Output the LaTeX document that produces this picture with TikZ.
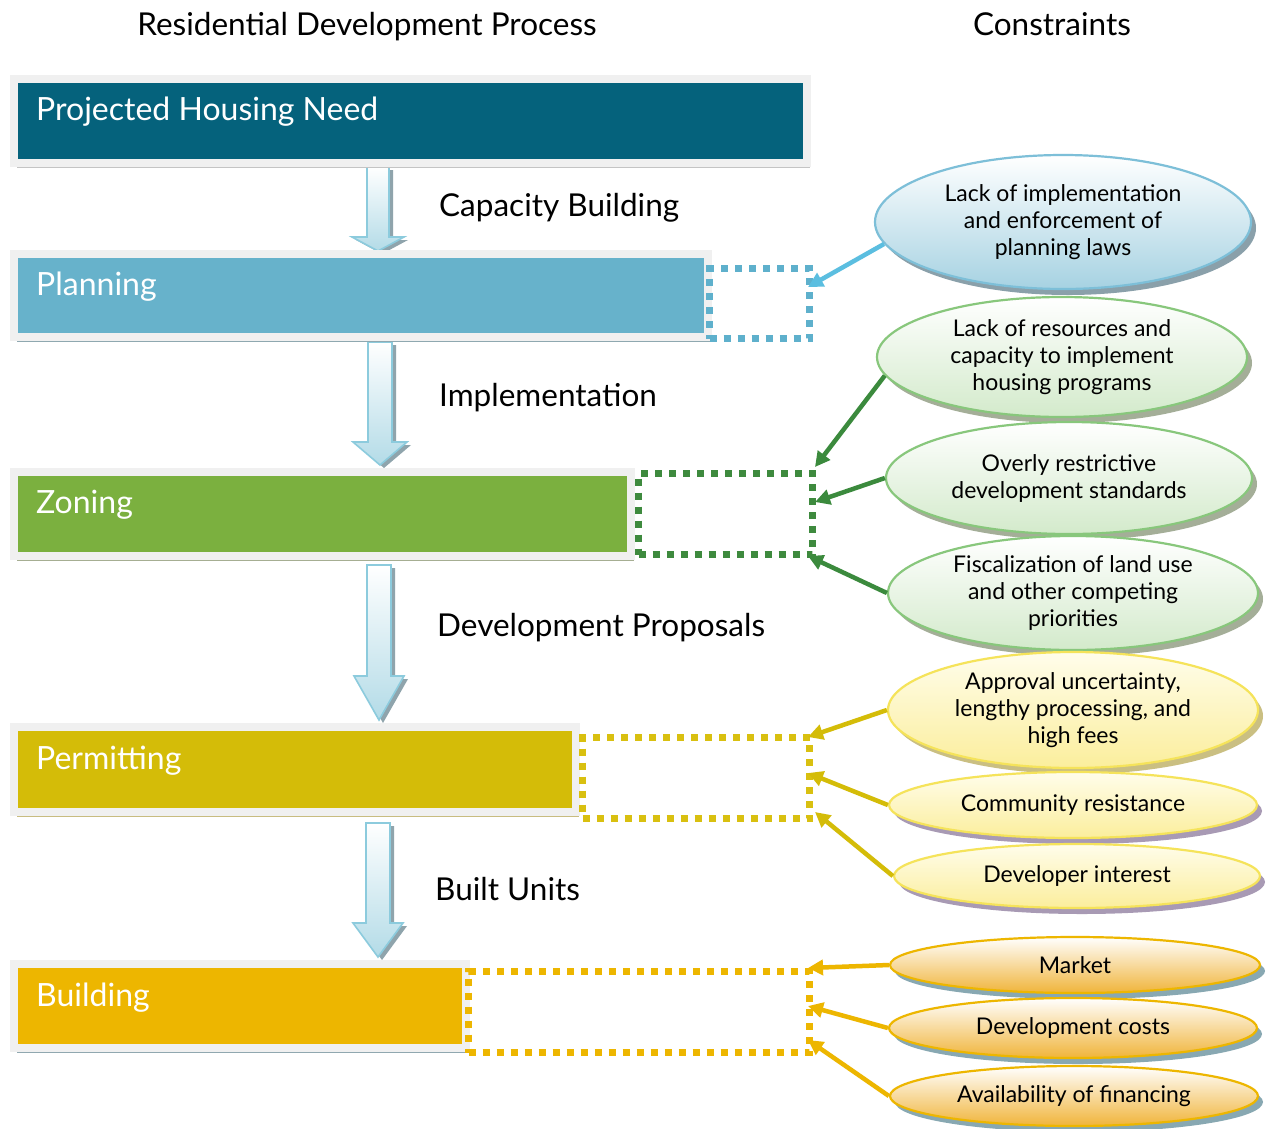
\documentclass[tikz,border=0pt]{standalone}
\usepackage{fontspec}
\setmainfont{Lato}
\usetikzlibrary{shapes.geometric,shadows,arrows.meta}
\definecolor{cA}{HTML}{05627C}
\definecolor{cB}{HTML}{67B2CB}
\definecolor{cC}{HTML}{7BB03F}
\definecolor{cD}{HTML}{D4BC08}
\definecolor{cE}{HTML}{EDB600}
\definecolor{dotB}{HTML}{5EB0CC}
\definecolor{dotC}{HTML}{3E8A3E}
\definecolor{dotD}{HTML}{D9C010}
\definecolor{dotE}{HTML}{EDB600}
\definecolor{frameg}{HTML}{F0F0F0}
\definecolor{shA}{HTML}{C4C4C4}
\definecolor{shB}{HTML}{8FA8B0}
\definecolor{shC}{HTML}{A6AE92}
\definecolor{shD}{HTML}{C8BC80}
\definecolor{shE}{HTML}{90A8B0}
\definecolor{arrblue}{HTML}{B3DBE7}
\definecolor{arrborder}{HTML}{8CCBDD}
\definecolor{arrshadow}{HTML}{8FA4AC}
\definecolor{eBline}{HTML}{7DBFD8}
\definecolor{eBfill}{HTML}{A6D2E2}
\definecolor{eBsh}{HTML}{8AA0AA}
\definecolor{eGline}{HTML}{88C77C}
\definecolor{eGfill}{HTML}{D3EACB}
\definecolor{eGsh}{HTML}{A4AE98}
\definecolor{eYline}{HTML}{F5E35A}
\definecolor{eYtop}{HTML}{FFFDEB}
\definecolor{eYfill}{HTML}{FBEE9C}
\definecolor{eYsh}{HTML}{CABF82}
\definecolor{eYsh2}{HTML}{A89AB4}
\definecolor{eOline}{HTML}{EDB600}
\definecolor{eOfill}{HTML}{F0B43A}
\definecolor{eOsh}{HTML}{88A8B2}
\definecolor{conB}{HTML}{5BBEE0}
\definecolor{conG}{HTML}{3B8A3D}
\definecolor{conY}{HTML}{D4BC08}
\definecolor{conO}{HTML}{EDB600}
\newcommand{\blkarrow}[6]{%
  \path[fill=arrshadow] ({#1-#5+4},{#2+3}) -- ({#1+#5+4},{#2+3}) -- ({#1+#5+4},{#3+3}) -- ({#1+#6+4},{#3+3}) -- ({#1+4},{#4+3}) -- ({#1-#6+4},{#3+3}) -- ({#1-#5+4},{#3+3}) -- cycle;
  \path[draw=arrborder, line width=1.6pt, top color=white, bottom color=arrblue] ({#1-#5},#2) -- ({#1+#5},#2) -- ({#1+#5},#3) -- ({#1+#6},#3) -- (#1,#4) -- ({#1-#6},#3) -- ({#1-#5},#3) -- cycle;}
\begin{document}
\begin{tikzpicture}[x=1pt,y=-1pt,
  stagebox/.style={rectangle, anchor=north west, inner sep=0pt, outer sep=0pt, draw=frameg, line width=8pt},
  stagetext/.style={anchor=base west, inner sep=0pt, text=white, font=\fontsize{32}{34}\selectfont},
  flowlabel/.style={anchor=base west, inner sep=0pt, font=\fontsize{31.5}{34}\selectfont},
  headtext/.style={font=\fontsize{31.5}{34}\selectfont},
  dotbox/.style={rectangle, anchor=north west, inner sep=0pt, line width=7pt, dash pattern=on 7pt off 7pt},
  cons/.style={ellipse, inner sep=0pt, line width=2.2pt, align=center, font=\fontsize{23}{27}\selectfont},
  consB/.style={cons, draw=eBline, top color=white, bottom color=eBfill, drop shadow={shadow xshift=5pt, shadow yshift=-6pt, fill=eBsh, opacity=1}},
  consG/.style={cons, draw=eGline, top color=white, bottom color=eGfill, drop shadow={shadow xshift=5pt, shadow yshift=-6pt, fill=eGsh, opacity=1}},
  consY/.style={cons, draw=eYline, top color=eYtop, bottom color=eYfill, drop shadow={shadow xshift=5pt, shadow yshift=-6pt, fill=eYsh, opacity=1}},
  consY2/.style={cons, draw=eYline, top color=eYtop, bottom color=eYfill, drop shadow={shadow xshift=5pt, shadow yshift=-6pt, fill=eYsh2, opacity=1}},
  consO/.style={cons, draw=eOline, top color=white, bottom color=eOfill, drop shadow={shadow xshift=5pt, shadow yshift=-6pt, fill=eOsh, opacity=1}},
  conn/.style={line width=4.5pt, -{Triangle[length=15pt,width=15pt]}},
]
\useasboundingbox (0,0) rectangle (1272,1128);
\fill[white] (0,0) rectangle (1272,1128);

% headings
\node[headtext, anchor=base] (h1) at (367,35) {Residential Development Process};
\node[headtext, anchor=base] (h2) at (1052,35) {Constraints};

% block arrows
\blkarrow{378}{167}{237}{251}{11}{26}
\blkarrow{380}{342}{442}{465}{12}{27}
\blkarrow{379}{565}{676}{720}{12}{25}
\blkarrow{378}{823}{923}{957}{12}{25}

% stage boxes
\node[stagebox, fill=cA, minimum width=793pt, minimum height=84pt, drop shadow={shadow xshift=3pt, shadow yshift=-5pt, fill=shA, opacity=1}] (b1) at (14,79) {};
\node[stagebox, fill=cB, minimum width=694pt, minimum height=83pt, drop shadow={shadow xshift=3pt, shadow yshift=-5pt, fill=shB, opacity=1}] (b2) at (14,254) {};
\node[stagebox, fill=cC, minimum width=617pt, minimum height=84pt, drop shadow={shadow xshift=3pt, shadow yshift=-5pt, fill=shC, opacity=1}] (b3) at (14,472) {};
\node[stagebox, fill=cD, minimum width=562pt, minimum height=85pt, drop shadow={shadow xshift=3pt, shadow yshift=-5pt, fill=shD, opacity=1}] (b4) at (14,727) {};
\node[stagebox, fill=cE, minimum width=452pt, minimum height=84pt, drop shadow={shadow xshift=3pt, shadow yshift=-5pt, fill=shE, opacity=1}] (b5) at (14,964) {};

\node[stagetext] (t1) at (36,120) {Projected Housing Need};
\node[stagetext] (t2) at (36,295) {Planning};
\node[stagetext] (t3) at (36,513) {Zoning};
\node[stagetext] (t4) at (36,769) {Permitting};
\node[stagetext] (t5) at (36,1006) {Building};

% flow labels
\node[flowlabel] (l1) at (439,216) {Capacity Building};
\node[flowlabel] (l2) at (439,406) {Implementation};
\node[flowlabel] (l3) at (437,636) {Development Proposals};
\node[flowlabel] (l4) at (435,900) {Built Units};

% dotted boxes
\node[dotbox, draw=dotB, minimum width=100pt, minimum height=70pt] (d2) at (706,265) {};
\node[dotbox, draw=dotC, minimum width=174pt, minimum height=81pt] (d3) at (635,470) {};
\node[dotbox, draw=dotD, minimum width=227pt, minimum height=81pt] (d4) at (579,734) {};
\node[dotbox, draw=dotE, minimum width=341pt, minimum height=81pt] (d5) at (465,968) {};

% constraint ellipses
\node[consB, minimum width=376pt, minimum height=134pt] (e1) at (1063,222) {Lack of implementation\\and enforcement of\\planning laws};
\node[consG, minimum width=370pt, minimum height=120pt] (e2) at (1062,357) {Lack of resources and\\capacity to implement\\housing programs};
\node[consG, minimum width=366pt, minimum height=112pt] (e3) at (1069,478) {Overly restrictive\\development standards};
\node[consG, minimum width=370pt, minimum height=114pt] (e4) at (1073,593) {Fiscalization of land use\\and other competing\\priorities};
\node[consY, minimum width=370pt, minimum height=116pt] (e5) at (1073,710) {Approval uncertainty,\\lengthy processing, and\\high fees};
\node[consY2, minimum width=368pt, minimum height=66pt] (e6) at (1073,805) {Community resistance};
\node[consY2, minimum width=366pt, minimum height=64pt] (e7) at (1077,876) {Developer interest};
\node[consO, minimum width=370pt, minimum height=56pt] (e8) at (1075,965) {Market};
\node[consO, minimum width=368pt, minimum height=60pt] (e9) at (1073,1028) {Development costs};
\node[consO, minimum width=368pt, minimum height=60pt] (e10) at (1074,1096) {Availability of financing};

% arrow targets
\coordinate (p1) at (808,287);
\coordinate (p2) at (815,467);
\coordinate (p3) at (815,502);
\coordinate (p4) at (808,556);
\coordinate (p5) at (808,737);
\coordinate (p6) at (808,773);
\coordinate (p7) at (815,812);
\coordinate (p8) at (808,968);
\coordinate (p9) at (808,1006);
\coordinate (p10) at (808,1040);

\draw[conn, draw=conB, fill=conB] (e1.187) -- (p1);
\draw[conn, draw=conG, fill=conG] (e2.186) -- (p2);
\draw[conn, draw=conG, fill=conG] (e3.west) -- (p3);
\draw[conn, draw=conG, fill=conG] (e4.west) -- (p4);
\draw[conn, draw=conY, fill=conY] (e5.west) -- (p5);
\draw[conn, draw=conY, fill=conY] (e6.west) -- (p6);
\draw[conn, draw=conY, fill=conY] (e7.west) -- (p7);
\draw[conn, draw=conO, fill=conO] (e8.west) -- (p8);
\draw[conn, draw=conO, fill=conO] (e9.west) -- (p9);
\draw[conn, draw=conO, fill=conO] (e10.west) -- (p10);
\end{tikzpicture}
\end{document}
